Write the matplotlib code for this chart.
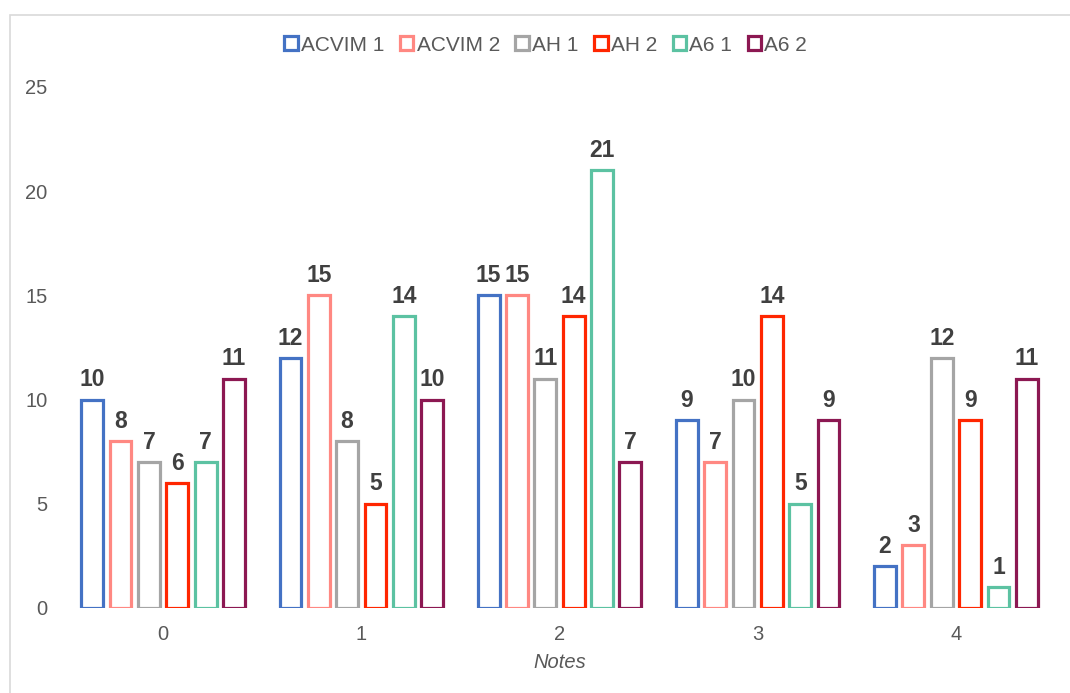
import numpy as np
import matplotlib.pyplot as plt
from matplotlib.patches import Patch, Rectangle

plt.rcParams['font.family'] = ['Liberation Sans', 'DejaVu Sans']

notes = [0, 1, 2, 3, 4]
series = ['ACVIM 1', 'ACVIM 2', 'AH 1', 'AH 2', 'A6 1', 'A6 2']
acvim1 = [10, 12, 15, 9, 2]
acvim2 = [8, 15, 15, 7, 3]
ah1 = [7, 8, 11, 10, 12]
ah2 = [6, 5, 14, 14, 9]
a61 = [7, 14, 21, 5, 1]
a62 = [11, 10, 7, 9, 11]
values = [acvim1, acvim2, ah1, ah2, a61, a62]
colors = ['#4472C4', '#FF8882', '#A5A5A5', '#FF2600', '#5CC2A2', '#8C1852']

fig = plt.figure(figsize=(10.7, 6.93), dpi=100)
ax = fig.add_axes([0.0598, 0.1227, 0.9262, 0.7518])

x = np.arange(len(notes))
step = 0.143
for i, (vals, c, name) in enumerate(zip(values, colors, series)):
    bars = ax.bar(x + (i - 2.5) * step, vals, width=0.11, facecolor='white',
                  edgecolor=c, linewidth=2.3, label=name)
    ax.bar_label(bars, padding=6, fontsize=16.5, fontweight='bold', color='#404040')

ax.set_xlim(-0.5, 4.5)
ax.set_ylim(0, 25)
ax.set_yticks([0, 5, 10, 15, 20, 25])
ax.set_xticks(x)
ax.set_xticklabels([str(n) for n in notes])
ax.tick_params(length=0, labelsize=14.5, labelcolor='#595959')
ax.tick_params(axis='y', pad=12)
ax.tick_params(axis='x', pad=12)
for s in ax.spines.values():
    s.set_visible(False)
ax.set_xlabel('Notes', fontstyle='italic', fontsize=14.5, color='#595959', labelpad=7)

handles = [Patch(facecolor='white', edgecolor=c, linewidth=2.3, label=n)
           for c, n in zip(colors, series)]
fig.legend(handles=handles, loc='center', bbox_to_anchor=(0.51, 0.935), ncol=6,
           frameon=False, fontsize=15, labelcolor='#595959', handlelength=0.65,
           handleheight=0.65, handletextpad=0.15, columnspacing=0.75)

fig.add_artist(Rectangle((10 / 1070, -0.1), 1.2, 1 - 15 / 693 + 0.1,
                         transform=fig.transFigure, fill=False,
                         edgecolor='#D9D9D9', linewidth=1.2))

fig.savefig('out.png', dpi=100)
